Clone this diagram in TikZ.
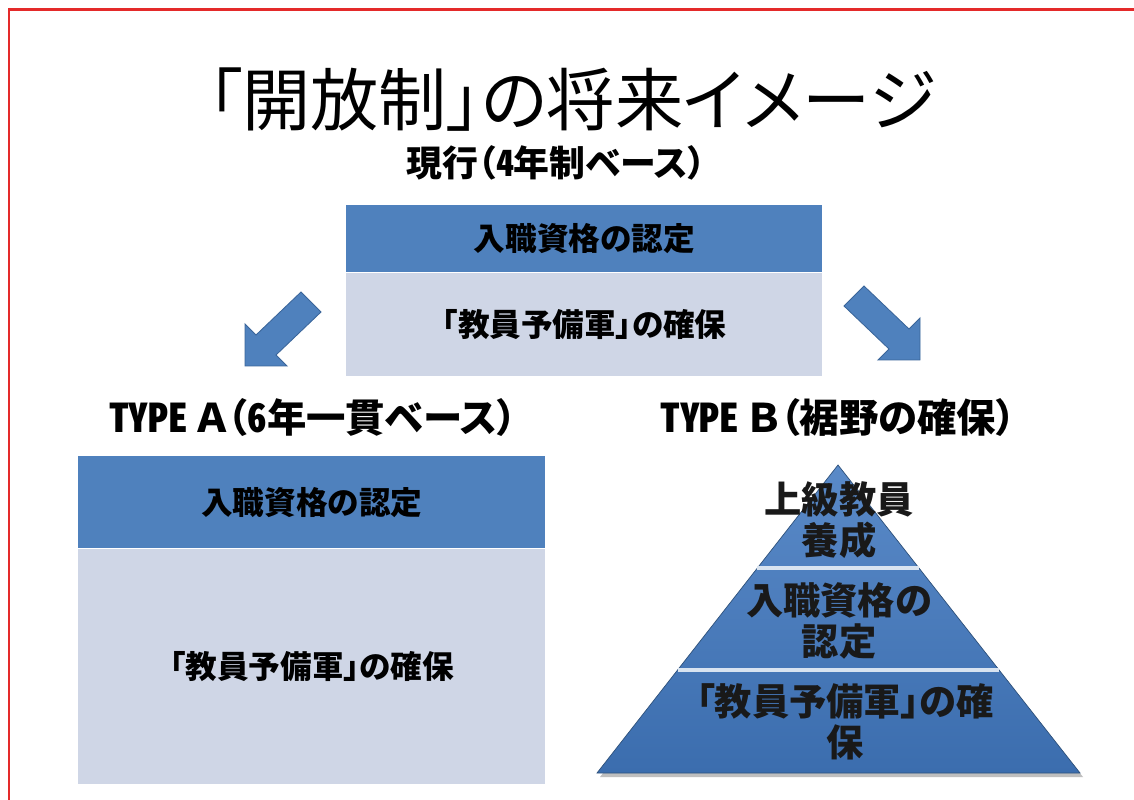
\documentclass[tikz,border=0pt]{standalone}
\usepackage{fontspec}
\setmainfont{Noto Sans CJK JP}[RawFeature=+palt]
\usepackage{tikz}
\usetikzlibrary{calc}
\usetikzlibrary{positioning}
\definecolor{hdrblue}{HTML}{4F81BD}
\definecolor{bodyblue}{HTML}{CFD6E6}
\definecolor{edgeblue}{HTML}{3A659A}
\definecolor{pyrtop}{HTML}{5A8AC8}
\definecolor{pyrbot}{HTML}{3B6DAE}
\definecolor{framered}{HTML}{E42A2A}
\newcommand{\halfw}[1]{{\addfontfeature{RawFeature=+hwid}#1}}
\tikzset{
    hdrbox/.style={rectangle, draw=none, fill=hdrblue, inner sep=0pt},
    bodybox/.style={rectangle, draw=none, fill=bodyblue, inner sep=0pt},
    boxtext/.style={text=black, font=\fontsize{22.5}{27}\selectfont\bfseries},
    typetext/.style={text=black, font=\fontsize{28}{32}\selectfont\bfseries},
    pyrtext/.style={text=black!90, align=center, font=\fontsize{26.5}{29.5}\selectfont\bfseries},
    blockarrow/.style={fill=hdrblue, draw=edgeblue, line width=0.6pt, line join=miter},
    tierline/.style={draw=white!78!hdrblue, line width=2.6pt},
}

\begin{document}
\begin{tikzpicture}[x=0.025cm, y=-0.025cm]
    \useasboundingbox (0,0) rectangle (1134,800);
    \fill[white] (0,0) rectangle (1134,800);

    % slide frame
    \draw[framered, line width=2.2pt] (8,9.5) -- (1134,9.5);
    \draw[framered, line width=1.3pt] (9,8) -- (9,800);

    \node (title) at (572,100) [
        text=black, font=\fontsize{48.5}{52}\selectfont,
    ] {「開放制」の将来イメージ};
    \node (current) at (556,163) [
        text=black, font=\fontsize{25.5}{30}\selectfont\bfseries,
    ] {現行（\halfw{4}年制ベース）};

    % current system
    \node (curhead) at (346,205) [
        hdrbox, anchor=north west,
        minimum width=11.9cm, minimum height=1.675cm,
    ] {};
    \node (curbody) at (curhead.south) [
        bodybox, anchor=north,
        minimum width=11.9cm, minimum height=2.575cm,
    ] {};
    \node (curheadlbl) at (curhead.center) [boxtext] {入職資格の認定};
    \node (curbodylbl) at (curbody.center) [boxtext] {「教員予備軍」の確保};

    % block arrows
    \filldraw[blockarrow] (301,292) -- (256,335) -- (245,324) -- (245,366)
        -- (287,366) -- (276,355) -- (321,312) -- cycle;
    \filldraw[blockarrow] (864,286) -- (909,329) -- (920,318) -- (920,360)
        -- (878,360) -- (889,349) -- (844,306) -- cycle;

    \node (typea) at (313,418) [typetext] {\halfw{TYPE} Ａ（\halfw{6}年一貫ベース）};
    \node (typeb) at (838,418) [typetext] {\halfw{TYPE} Ｂ（裾野の確保）};

    % type A
    \node (ahead) at (78,456) [
        hdrbox, anchor=north west,
        minimum width=11.675cm, minimum height=2.3cm,
    ] {};
    \node (abody) at (ahead.south) [
        bodybox, anchor=north,
        minimum width=11.675cm, minimum height=5.875cm,
    ] {};
    \node (aheadlbl) at (ahead.center) [boxtext] {入職資格の認定};
    \node (abodylbl) at (abody.center) [boxtext] {「教員予備軍」の確保};

    % type B pyramid
    \coordinate (apex) at (838,465);
    \coordinate (pyrl) at (597,773);
    \coordinate (pyrr) at (1080,773);
    \fill[black!25] ($(pyrl)+(3,4)$) -- ($(pyrr)+(3,4)$) -- ($(apex)+(3,4)$) -- cycle;
    \shade[top color=pyrtop, bottom color=pyrbot]
        (apex) -- (pyrr) -- (pyrl) -- cycle;
    \draw[edgeblue!80!black, line width=0.5pt, line join=miter] (apex) -- (pyrr) -- (pyrl) -- cycle;
    \draw[tierline] ($(apex)!0.3344!(pyrl)$) -- ($(apex)!0.3344!(pyrr)$);
    \draw[tierline] ($(apex)!0.6656!(pyrl)$) -- ($(apex)!0.6656!(pyrr)$);

    \node (tiertop) at (839,520) [pyrtext] {上級教員\\養成};
    \node (tiermid) at (839,621) [pyrtext] {入職資格の\\認定};
    \node (tierlow) at (845,722) [pyrtext] {「教員予備軍」の確\\保};
\end{tikzpicture}
\end{document}
